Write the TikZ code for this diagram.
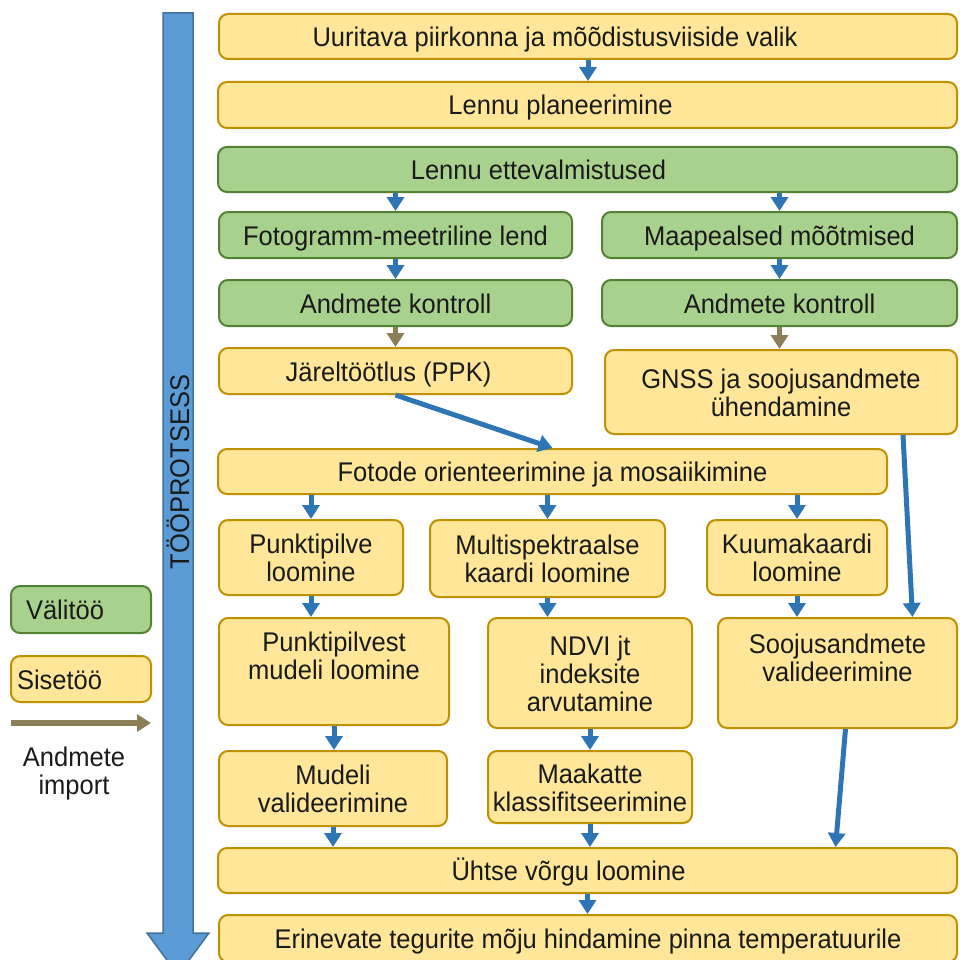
\documentclass[tikz,border=0pt]{standalone}
\usepackage{fontspec}
\setmainfont[FakeStretch=0.945]{Liberation Sans}
\usepackage{tikz}
\usetikzlibrary{arrows.meta}
\definecolor{sisec}{HTML}{FFE699}
\definecolor{sisel}{HTML}{BF9000}
\definecolor{valic}{HTML}{A9D18E}
\definecolor{valil}{HTML}{548235}
\definecolor{flowc}{HTML}{2E75B6}
\definecolor{impc}{HTML}{8C7F57}
\definecolor{procc}{HTML}{5B9BD5}
\definecolor{procl}{HTML}{41719C}
\definecolor{txtc}{HTML}{1A1A1A}
\tikzset{
  flw/.style={-{Triangle[width=17pt,length=14pt]},line width=5pt,flowc},
  imp/.style={flw,impc},
  tekst/.style={text=txtc,font=\fontsize{27}{28}\selectfont},
  sise/.style={tekst,draw=sisel,fill=sisec,line width=2pt,rounded corners=9pt,align=center,inner sep=2pt,
    text height=20pt,text depth=0pt},
  vali/.style={sise,draw=valil,fill=valic},
  kaks/.style={text height=48pt},
  kolm/.style={text height=76pt},
  ylal/.style={text depth=32pt}
}
\begin{document}
\begin{tikzpicture}[x=1pt,y=-1pt]
\useasboundingbox (0,0) rectangle (959,960);
% tooprotsessi nool
\draw[fill=procc,draw=procl,line width=1.5pt] (163,13) -- (193,13) -- (193,933) -- (209,933)
  -- (178,975) -- (147,933) -- (163,933) -- cycle;
\node[tekst,rotate=90] (tp) at (178,472) {TÖÖPROTSESS};
% legend
\node[vali,minimum height=47pt,text width=128pt,inner xsep=6pt,align=left] (lval) at (81,609.5) {\hspace*{9pt}Välitöö};
\node[sise,minimum height=46pt,text width=128pt,inner xsep=6pt,align=left] (lsis) at (81,679) {Sisetöö};
\coordinate (li1) at (11,723);
\coordinate (li2) at (151,723);
\draw[imp,line width=6pt] (li1) -- (li2);
\node[tekst,align=center] (limp) at (74,774) {Andmete\\import};
% kastid
\node[sise,minimum width=738pt,minimum height=45pt] (uur) at (588,36.5) {Uuritava piirkonna ja mõõdistusviiside valik\hspace*{66pt}};
\node[sise,minimum width=739pt,minimum height=46pt] (lpl) at (587.5,105) {Lennu planeerimine\hspace*{54pt}};
\node[vali,minimum width=739pt,minimum height=45pt] (le) at (587.5,169.5) {Lennu ettevalmistused\hspace*{98pt}};
\node[vali,minimum width=353pt,minimum height=46pt] (fl) at (395.5,235) {Fotogramm-meetriline lend};
\node[vali,minimum width=355pt,minimum height=46pt] (mm) at (779.5,235) {Maapealsed mõõtmised};
\node[vali,minimum width=353pt,minimum height=46pt] (ak1) at (395.5,303) {Andmete kontroll};
\node[vali,minimum width=355pt,minimum height=46pt] (ak2) at (779.5,303) {Andmete kontroll};
\node[sise,minimum width=353pt,minimum height=46pt] (jt) at (395.5,371) {Järeltöötlus (PPK)\hspace*{14pt}};
\node[sise,kaks,minimum width=352pt,minimum height=84pt] (gnss) at (781,392) {GNSS ja soojusandmete\\ühendamine};
\node[sise,minimum width=669pt,minimum height=45pt] (fo) at (552.5,471.5) {Fotode orienteerimine ja mosaiikimine};
\node[sise,kaks,minimum width=184pt,minimum height=75pt] (pp) at (311,557.5) {Punktipilve\\loomine};
\node[sise,kaks,minimum width=235pt,minimum height=77pt] (mk) at (547.5,558.5) {Multispektraalse\\kaardi loomine};
\node[sise,kaks,minimum width=180pt,minimum height=75pt] (kk) at (797,557.5) {Kuumakaardi\\loomine};
\node[sise,kaks,ylal,minimum width=230pt,minimum height=107pt] (pm) at (334,671.5) {Punktipilvest\\mudeli loomine};
\node[sise,kolm,minimum width=204pt,minimum height=110pt] (ndvi) at (590,673) {NDVI jt\\indeksite\\arvutamine};
\node[sise,kaks,ylal,minimum width=239pt,minimum height=110pt] (sv) at (837.5,673) {Soojusandmete\\valideerimine};
\node[sise,kaks,minimum width=228pt,minimum height=75pt] (mv) at (333,788.5) {Mudeli\\valideerimine};
\node[sise,kaks,minimum width=204pt,minimum height=72pt] (mkl) at (590,787) {Maakatte\\klassifitseerimine};
\node[sise,minimum width=739pt,minimum height=45pt] (yv) at (587.5,870.5) {Ühtse võrgu loomine\hspace*{38pt}};
\node[sise,minimum width=738pt,minimum height=47pt] (et) at (588,938.5) {Erinevate tegurite mõju hindamine pinna temperatuurile};
% nooled
\foreach \a/\b in {uur/lpl,fl/ak1,mm/ak2,pp/pm,mk/ndvi,kk/sv,pm/mv,ndvi/mkl,mv/yv,mkl/yv,yv/et}
  \draw[flw] (\a.south) -- (\a.south |- \b.north);
\foreach \a/\b in {le/fl,le/mm,fo/pp,fo/mk,fo/kk}
  \draw[flw] (\b.north |- \a.south) -- (\b.north);
\foreach \a/\b in {ak1/jt,ak2/gnss}
  \draw[imp] (\a.south) -- (\a.south |- \b.north);
\draw[flw] (jt.south) -- (fo.north);
\draw[flw] ([xshift=122pt]gnss.south) -- ([xshift=75pt]sv.north);
\draw[flw] ([xshift=8pt]sv.south) -- ([xshift=248pt]yv.north);
\end{tikzpicture}
\end{document}
